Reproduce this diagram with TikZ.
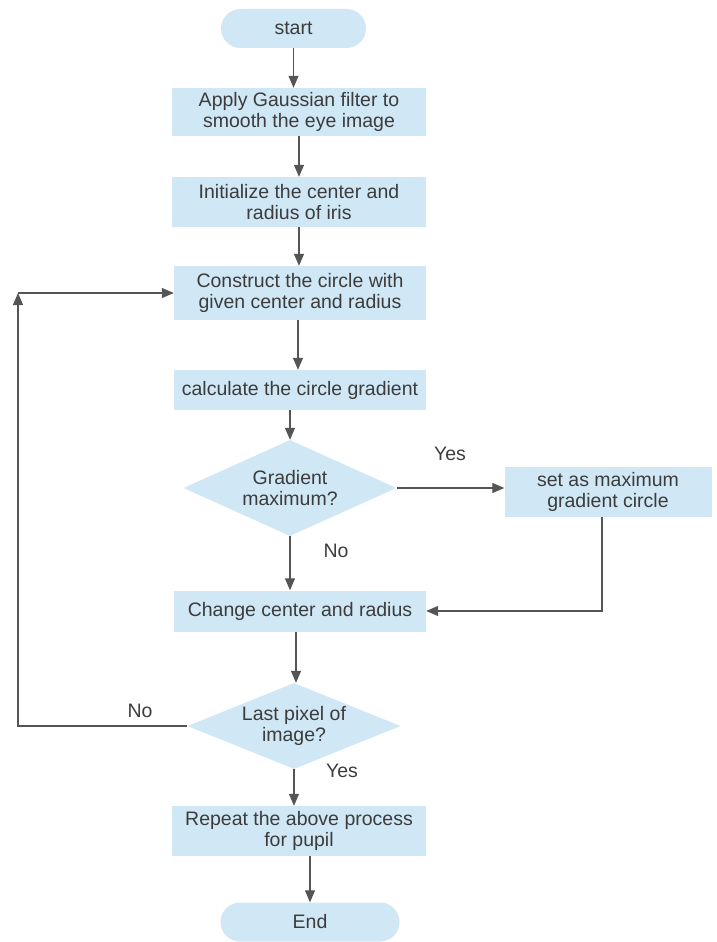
\documentclass[tikz,border=0pt]{standalone}
\usepackage{fontspec}
\setmainfont{Liberation Sans}
\usepackage{tikz}
\usepackage{xcolor}
\usetikzlibrary{positioning, arrows.meta, shapes.geometric}
\definecolor{boxblue}{RGB}{208,231,245}
\definecolor{linegray}{RGB}{85,85,85}
\definecolor{textgray}{RGB}{60,60,60}
\tikzset{
    procbox/.style={rectangle, fill=boxblue, text=textgray, align=center, inner sep=0pt, font=\fontsize{19.5}{20.5}\selectfont},
    termbox/.style={rectangle, rounded corners=19.5pt, fill=boxblue, text=textgray, align=center, inner sep=0pt, font=\fontsize{19.5}{20.5}\selectfont},
    decbox/.style={diamond, aspect=2.2, fill=boxblue, text=textgray, align=center, inner sep=0pt, font=\fontsize{19.5}{20.5}\selectfont},
    flowlabel/.style={text=textgray, inner sep=0pt, font=\fontsize{19.5}{20.5}\selectfont},
    link/.style={-{Triangle[length=12pt, width=10pt]}, line width=1.2pt, draw=linegray}
}

\begin{document}
\begin{tikzpicture}[x=1pt, y=-1pt]

\useasboundingbox (0,0) rectangle (716,942);

% Nodes
\node[termbox, minimum width=145pt, minimum height=39pt] (start) at (293.5,28.5) {start};
\node[procbox, minimum width=254pt, minimum height=48pt] (smooth) at (299,112) {Apply Gaussian filter to\\smooth the eye image};
\node[procbox, minimum width=254pt, minimum height=50pt] (init) at (299,202) {Initialize the center and\\radius of iris};
\node[procbox, minimum width=252pt, minimum height=54pt] (construct) at (300,293) {Construct the circle with\\given center and radius};
\node[procbox, minimum width=252pt, minimum height=40pt] (gradient) at (300,390) {calculate the circle gradient};
\node[decbox, minimum width=213pt, minimum height=96pt] (gradmax) at (290,488) {Gradient\\maximum?};
\node[procbox, minimum width=207pt, minimum height=50pt] (setmax) at (608,492) {set as maximum\\gradient circle};
\node[procbox, minimum width=252pt, minimum height=41pt] (change) at (300,611) {Change center and radius};
\node[decbox, minimum width=213pt, minimum height=83pt] (lastpix) at (294,726) {Last pixel of\\image?};
\node[procbox, minimum width=254pt, minimum height=50pt] (pupil) at (299,831) {Repeat the above process\\for pupil};
\node[termbox, minimum width=179pt, minimum height=39pt] (end) at (310,922) {End};
\coordinate (loopc) at (18,293);

% Labels
\node[flowlabel] (yes1) at (450,454) {Yes};
\node[flowlabel] (no1) at (336,551) {No};
\node[flowlabel] (no2) at (140,711) {No};
\node[flowlabel] (yes2) at (342,771) {Yes};

% Arcs
\draw[link] (start.south) -- (start.south |- smooth.north);
\draw[link] (smooth.south) -- (init.north);
\draw[link] (init.south) -- (init.south |- construct.north);
\draw[link] ([xshift=-2pt]construct.south) -- ([xshift=-2pt]gradient.north);
\draw[link] (gradient.south -| gradmax.north) -- (gradmax.north);
\draw[link] (gradmax.east) -- (gradmax.east -| setmax.west);
\draw[link] (gradmax.south) -- (gradmax.south |- change.north);
\draw[link] ([xshift=-6pt]setmax.south) |- (change.east);
\draw[link] ([xshift=-4pt]change.south) -- ([xshift=-4pt]change.south |- lastpix.north);
\draw[link] (lastpix.west) -| (loopc);
\draw[link] (loopc) -- (construct.west);
\draw[link] (lastpix.south) -- (lastpix.south |- pupil.north);
\draw[link] (pupil.south -| end.north) -- (end.north);

\end{tikzpicture}
\end{document}
